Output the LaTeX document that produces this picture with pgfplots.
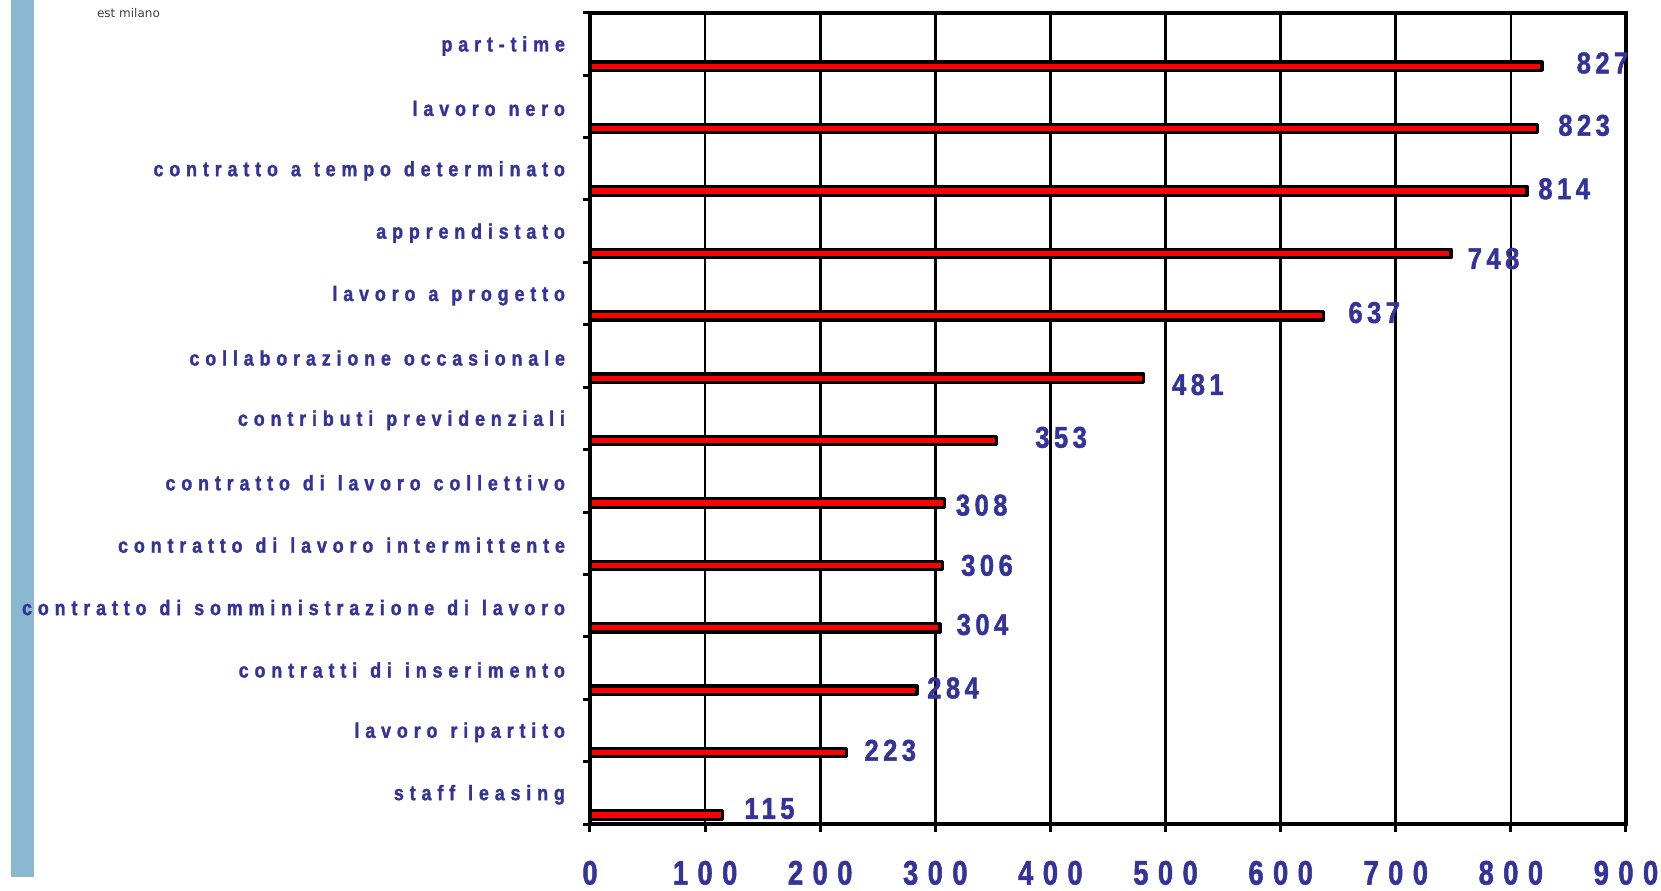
\documentclass[border=0pt]{standalone}
\usepackage{pgfplots}
\pgfplotsset{compat=1.18}
\usepackage{pgfplotstable}
\usepackage{fontspec}
\setmainfont{Liberation Sans}
\newfontfamily\catfont[FakeStretch=0.85,LetterSpace=28,WordSpace=1.2,FakeBold=1.5]{Liberation Sans Bold}
\newfontfamily\tickfont[FakeStretch=0.8,LetterSpace=28,FakeBold=1.5]{Liberation Sans Bold}
\newfontfamily\valfont[FakeStretch=0.85,LetterSpace=15,FakeBold=1.5]{Liberation Sans Bold}
\newfontfamily\smallfont{DejaVu Sans}
\definecolor{lblue}{HTML}{333399}
\definecolor{strip}{HTML}{8AB8D0}

% idx: 0 = bottom category
\pgfplotstableread{
idx val dx dy
0  115 10.2  3.2
1  223  8.1  1.1
2  284  4.4  1.1
3  304  7.6  1.6
4  306  8.7  0.0
5  308  4.9 -1.1
6  353 18.7  1.6
7  481 13.4 -3.2
8  637 11.8  1.6
9  748  7.6 -2.6
10 814  4.9  1.1
11 823  9.7  1.6
12 827 16.6  1.6
}\data

\begin{document}
\begin{tikzpicture}
\useasboundingbox (0,0) rectangle (830.5pt,445pt);
\fill[strip] (5.3pt,6.5pt) rectangle (17pt,445pt);
\node[font=\smallfont\fontsize{6}{7}\selectfont, text=black!75, anchor=west] at (45pt,438.6pt) {est milano};
\begin{axis}[
  at={(295pt,33pt)}, anchor=south west,
  scale only axis, width=518pt, height=405.6pt,
  xbar, bar width=4.2pt, bar shift=-11.1pt,
  xmin=0, xmax=900, ymin=-0.5, ymax=12.5,
  xtick={0,100,...,900},
  ytick={0,...,12},
  yticklabels={staff leasing, lavoro ripartito, contratti di inserimento,
    contratto di somministrazione di lavoro, contratto di lavoro intermittente,
    contratto di lavoro collettivo, contributi previdenziali,
    collaborazione occasionale, lavoro a progetto, apprendistato,
    contratto a tempo determinato, lavoro nero, part-time},
  minor ytick={-0.5,0.5,...,12.5},
  every major y tick/.append style={opacity=0},
  xtick pos=bottom, ytick pos=left,
  tick align=outside,
  major tick length=4pt, minor tick length=3.5pt,
  tick style={black, line width=1.5pt},
  axis line style={black, line width=2pt},
  xmajorgrids, major x grid style={black, line width=1.3pt},
  /pgf/number format/assume math mode=true,
  xticklabel style={font=\tickfont\fontsize{17}{19}\selectfont, text=lblue, inner sep=0pt, yshift=-14.2pt},
  yticklabel style={font=\catfont\fontsize{10.5}{12}\selectfont, text=lblue, anchor=east, xshift=-5pt, yshift=-1pt},
  nodes near coords,
  visualization depends on={\thisrow{dx} \as \dx},
  visualization depends on={\thisrow{dy} \as \dy},
  nodes near coords style={font=\valfont\fontsize{15}{17}\selectfont, text=lblue,
    anchor=west, inner sep=0pt, xshift=\dx pt, yshift=\dy pt},
]
\addplot[fill=red, draw=black, line width=1.6pt, line join=round] table[x=val, y=idx] {\data};
\end{axis}
\end{tikzpicture}
\end{document}
